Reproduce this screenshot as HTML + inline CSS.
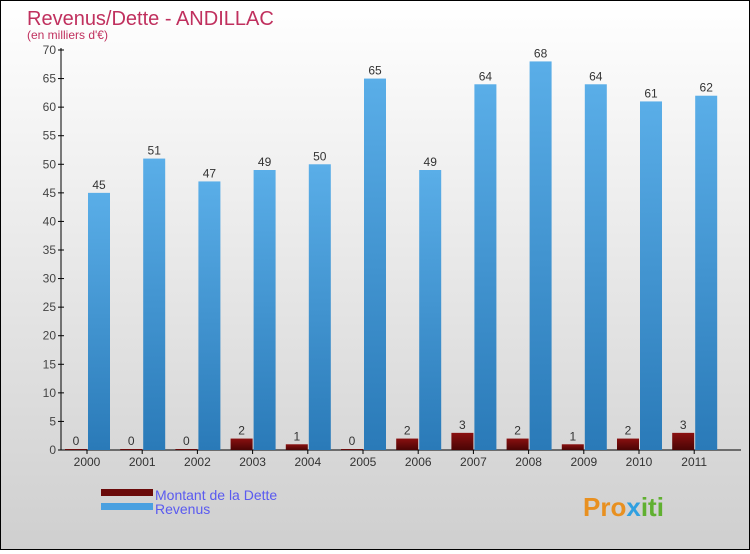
<!DOCTYPE html>
<html><head><meta charset="utf-8">
<style>
html,body{margin:0;padding:0}
body{width:750px;height:550px;overflow:hidden;font-family:"Liberation Sans",sans-serif}
#wrap{position:relative;width:748px;height:548px;border:1px solid #000;background:linear-gradient(#ffffff,#cfcfcf)}
</style></head>
<body>
<div id="wrap">
<svg id="chart" width="748" height="548" xmlns="http://www.w3.org/2000/svg">
<defs>
<linearGradient id="gb" x1="0" y1="0" x2="0" y2="1"><stop offset="0" stop-color="#5aaee8"/><stop offset="1" stop-color="#2a7ab8"/></linearGradient>
<linearGradient id="gd" x1="0" y1="0" x2="0" y2="1"><stop offset="0" stop-color="#8a1010"/><stop offset="1" stop-color="#4a0505"/></linearGradient>
</defs>
<text x="26" y="24" font-size="20" fill="#c0305e">Revenus/Dette - ANDILLAC</text>
<text x="26" y="38" font-size="12" fill="#c0305e">(en milliers d'€)</text>
<g id="axes"></g>
<g id="bars"></g>
<rect x="100" y="488" width="52" height="7" fill="#6a0a0a"/>
<text x="154" y="499" font-size="14" fill="#5a5af0">Montant de la Dette</text>
<rect x="100" y="502" width="52" height="7" fill="#4aa0e0"/>
<text x="154" y="513" font-size="14" fill="#5a5af0">Revenus</text>
<text x="582" y="515" font-size="26" font-weight="bold" fill="#e89020">Pro<tspan fill="#30a0e0">x</tspan><tspan fill="#60b030">iti</tspan></text>
</svg>
</div>
<script>
const categories=["2000","2001","2002","2003","2004","2005","2006","2007","2008","2009","2010","2011"];
const dette=[0,0,0,2,1,0,2,3,2,1,2,3];
const revenus=[45,51,47,49,50,65,49,64,68,64,61,62];
const yTicks=[0,5,10,15,20,25,30,35,40,45,50,55,60,65,70];
const NS="http://www.w3.org/2000/svg";
const y0=449,yTop=49,yMax=70;
function y(v){return y0-(y0-yTop)*v/yMax;}
function x(i){return 86+55.2*i;}
function mk(t,a,p){const e=document.createElementNS(NS,t);for(const k in a)e.setAttribute(k,a[k]);p.appendChild(e);return e;}
const ax=document.getElementById('axes'),bars=document.getElementById('bars');
const yl=mk('line',{x1:60,y1:yTop-2,x2:60,y2:y0,stroke:'#000'},ax);


const xl=mk('line',{x1:60,y1:y0,x2:740,y2:y0,stroke:'#000'},ax);


yTicks.forEach(v=>{
 mk('line',{x1:57,y1:y(v),x2:63,y2:y(v),stroke:'#000'},ax);
 const t=mk('text',{x:55,y:y(v)+4,'font-size':12,fill:'#444','text-anchor':'end'},ax);t.textContent=v;
 
 
});
categories.forEach((c,i)=>{
 const cx=x(i);
 mk('line',{x1:cx,y1:y0,x2:cx,y2:y0+4,stroke:'#000'},ax);
 const t=mk('text',{x:cx,y:y0+16,'font-size':12,fill:'#333','text-anchor':'middle'},ax);t.textContent=c;
 
 
 const hd=Math.max(y0-y(dette[i]),1);
 const bd=mk('rect',{x:cx-22,y:y0-hd,width:22,height:hd,fill:'url(#gd)'},bars);
 
 
 const ld=mk('text',{x:cx-11,y:y0-hd-4,'font-size':12,fill:'#333','text-anchor':'middle'},bars);ld.textContent=dette[i];
 
 
 const hr=y0-y(revenus[i]);
 const br=mk('rect',{x:cx+1,y:y0-hr,width:22,height:hr,fill:'url(#gb)'},bars);
 
 
 const lr=mk('text',{x:cx+12,y:y0-hr-4,'font-size':12,fill:'#333','text-anchor':'middle'},bars);lr.textContent=revenus[i];
 
 
});
</script>
</body></html>
